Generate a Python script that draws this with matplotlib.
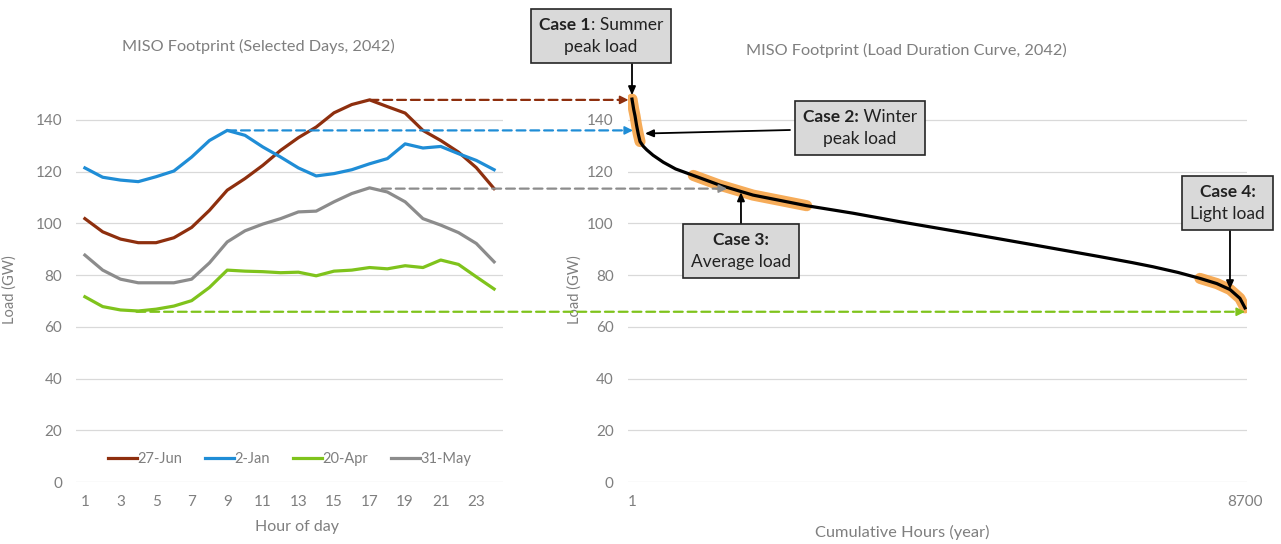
import matplotlib
matplotlib.use("Agg")
import matplotlib.pyplot as plt
from matplotlib.patches import ConnectionPatch
from matplotlib.offsetbox import TextArea, HPacker, VPacker, AnnotationBbox

plt.rcParams['font.family'] = ['Lato', 'DejaVu Sans']

# hourly loads (GW) for the selected days
hours = list(range(1, 25))
jun27 = [101.8, 96.7, 93.9, 92.5, 92.5, 94.4, 98.4, 105.0, 112.8, 117.3, 122.4, 128.2,
         133.1, 137.2, 142.7, 145.9, 147.7, 145.1, 142.6, 135.9, 132.0, 127.5, 121.5, 113.4]
jan2 = [121.4, 117.8, 116.7, 116.1, 118.0, 120.2, 125.6, 132.0, 135.9, 134.0, 129.5, 125.6,
        121.4, 118.3, 119.2, 120.7, 123.0, 125.0, 130.7, 129.1, 129.7, 126.9, 124.3, 120.7]
apr20 = [71.6, 67.8, 66.5, 66.1, 66.8, 68.0, 70.1, 75.2, 81.9, 81.5, 81.3, 80.9,
         81.1, 79.7, 81.5, 81.9, 82.9, 82.4, 83.6, 82.9, 85.8, 84.1, 79.3, 74.6]
may31 = [87.7, 81.9, 78.4, 77.0, 77.0, 77.0, 78.4, 84.7, 92.8, 97.1, 99.7, 101.8,
         104.4, 104.7, 108.3, 111.5, 113.7, 112.1, 108.3, 101.8, 99.3, 96.4, 92.2, 85.1]
day_names = ['27-Jun', '2-Jan', '20-Apr', '31-May']
day_colors = ['#8E2F0E', '#1F8DD6', '#7FC31C', '#8C8C8C']

# load duration curve
ldc_hours = [1, 10, 25, 44, 65, 90, 115, 160, 210, 300, 445, 620, 871, 1250, 1718, 2480,
             3137, 3804, 4750, 5691, 6642, 7100, 7394, 7750, 8061, 8300, 8487, 8628, 8700]
ldc_load = [148.0, 146.5, 144.0, 141.5, 138.0, 134.5, 131.6, 129.8, 128.4, 126.3, 123.6,
            121.0, 118.5, 114.7, 110.9, 106.8, 103.9, 100.6, 96.2, 91.7, 87.1, 84.8, 83.2,
            81.0, 78.7, 76.7, 74.4, 71.0, 67.3]

# dashed links: (color, start hour, level, end hour on duration curve)
links = [('#8E2F0E', 17, 147.7, -50),
         ('#1F8DD6', 9, 135.9, 15),
         ('#8C8C8C', 17.7, 113.4, 1350),
         ('#7FC31C', 3.9, 65.8, 8700)]

W, H = 1281, 544
fig = plt.figure(figsize=(W / 100, H / 100), dpi=100)
txt = '#7F7F7F'
grid = '#D9D9D9'


def fxy(px, py):
    return px / W, 1 - py / H


ax1 = fig.add_axes([76 / W, 62 / H, 427 / W, 401 / H])
ax2 = fig.add_axes([627.7 / W, 62 / H, 619.4 / W, 401 / H])

for ax in (ax1, ax2):
    ax.set_ylim(0, 155)
    ax.set_yticks(range(0, 141, 20))
    for s in ax.spines.values():
        s.set_visible(False)
    ax.grid(axis='y', color=grid, lw=0.9)
    ax.set_axisbelow(True)
    ax.tick_params(length=0, labelsize=11, colors=txt)
    ax.tick_params(axis='y', pad=10)
    ax.tick_params(axis='x', pad=9)
    ax.set_ylabel('Load (GW)', fontsize=10.5, color=txt)

ax1.set_xlim(0.5, 24.5)
ax1.set_xticks(range(1, 24, 2))
for vals, name, c in zip([jun27, jan2, apr20, may31], day_names, day_colors):
    ax1.plot(hours, vals, color=c, lw=2.3, label=name)
ax1.set_xlabel('Hour of day', fontsize=11.5, color=txt)
ax1.xaxis.set_label_coords(0.518, -0.095)
ax1.yaxis.set_label_coords(-0.138, 0.479)
ax1.legend(loc='center', bbox_to_anchor=(0.5, 0.057), ncol=4, frameon=False,
           fontsize=10.5, labelcolor=txt, handlelength=2.0, handletextpad=0.0,
           columnspacing=1.6)

ax2.set_xlim(-60, 8730)
ax2.set_xticks([1, 8700])
ax2.set_xticklabels(['1', '8700'])
ax2.set_xlabel('Cumulative Hours (year)', fontsize=11.8, color=txt)
ax2.xaxis.set_label_coords(0.444, -0.107)
ax2.yaxis.set_label_coords(-0.075, 0.479)

hl = '#F5A347'
for a, b in [(0, 7), (12, 16), (24, 29)]:
    ax2.plot(ldc_hours[a:b], ldc_load[a:b], color=hl, lw=8, alpha=0.9,
             solid_capstyle='round')
ax2.plot(ldc_hours, ldc_load, color='black', lw=2.3)

fig.text(*fxy(258, 46), 'MISO Footprint (Selected Days, 2042)', ha='center', va='center',
         fontsize=11.7, color=txt)
fig.text(*fxy(906, 50), 'MISO Footprint (Load Duration Curve, 2042)', ha='center', va='center',
         fontsize=11.7, color=txt)

for c, h0, lvl, h1 in links:
    con = ConnectionPatch(xyA=(h0, lvl), coordsA=ax1.transData,
                          xyB=(h1 - 60, lvl), coordsB=ax2.transData,
                          color=c, lw=1.6, linestyle=(0, (4, 2.2)))
    fig.add_artist(con)
    ax2.annotate('', xy=(h1, lvl), xytext=(h1 - 100, lvl), annotation_clip=False,
                 arrowprops=dict(arrowstyle='-|>,head_length=0.5,head_width=0.25',
                                 color=c, lw=1.2, shrinkA=0, shrinkB=0))

# case boxes: (bold part, rest of line 1, line 2, box center px, arrow tail px, arrow tip)
cases = [('Case 1', ': Summer', 'peak load', (601, 36), (632, 64), (1, 149.5)),
         ('Case 2:', ' Winter', 'peak load', (860, 128), (790, 130), (185, 134.7)),
         ('Case 3:', '', 'Average load', (741, 251), (741, 224), (1547, 112.0)),
         ('Case 4:', '', 'Light load', (1227.5, 203), (1230, 231), (8487, 74.5))]
tp = dict(fontsize=12.5, color='#222222')
for bold, rest, line2, cen, tail, tip in cases:
    ax2.annotate('', xy=tip, xytext=fxy(*tail), textcoords='figure fraction',
                 annotation_clip=False,
                 arrowprops=dict(arrowstyle='-|>,head_length=0.5,head_width=0.22',
                                 color='black', lw=1.3, shrinkA=0, shrinkB=0))
    parts = [TextArea(bold, textprops=dict(fontweight='bold', **tp))]
    if rest:
        parts.append(TextArea(rest, textprops=tp))
    row1 = HPacker(children=parts, align='baseline', pad=0, sep=0)
    row2 = TextArea(line2, textprops=tp)
    pack = VPacker(children=[row1, row2], align='center', pad=0, sep=5)
    ab = AnnotationBbox(pack, fxy(*cen), xycoords='figure fraction', frameon=True,
                        pad=0.55, fontsize=10, annotation_clip=False,
                        bboxprops=dict(boxstyle='square,pad=0.55', fc='#D9D9D9',
                                       ec='#262626', lw=1.2))
    fig.add_artist(ab)

fig.savefig('out.png', dpi=100)
